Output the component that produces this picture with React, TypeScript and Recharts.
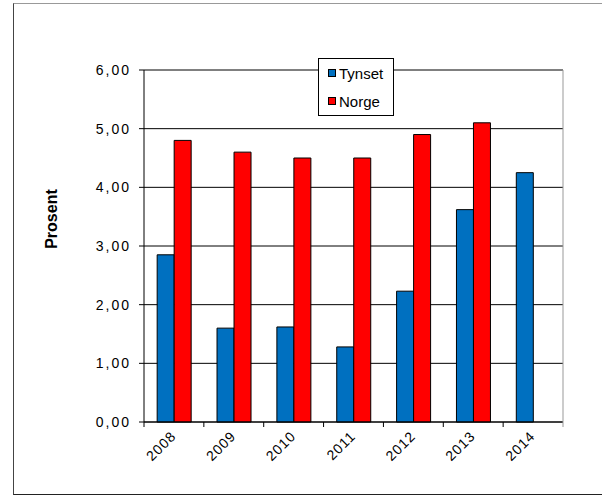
import React from 'react';
import { BarChart, Bar, XAxis, YAxis, CartesianGrid, Legend, Label } from 'recharts';

const years = ['2008', '2009', '2010', '2011', '2012', '2013', '2014'];
const tynset = [2.85, 1.6, 1.62, 1.28, 2.23, 3.62, 4.25];
const norge: (number | null)[] = [4.8, 4.6, 4.5, 4.5, 4.9, 5.1, null];
const yTicks = [0, 1, 2, 3, 4, 5, 6];
const seriesOrder = ['Tynset', 'Norge'];

const data = years.map((y, i) => ({ year: y, Tynset: tynset[i], Norge: norge[i] }));

const FONT = '"Liberation Sans", Arial, sans-serif';

const XTick = (props: any) => {
  const { x, y, payload, index, visibleTicksCount } = props;
  const off = payload && payload.offset ? payload.offset : 0;
  const last = index === visibleTicksCount - 1;
  return (
    <g>
      <line x1={x - off} x2={x - off} y1={y} y2={y + 5} stroke="#000" strokeWidth={1} />
      {last && <line x1={x + off} x2={x + off} y1={y - 352} y2={y + 5} stroke="#999" strokeWidth={1} />}
      <text
        x={x + 3}
        y={y + 15}
        textAnchor="end"
        transform={`rotate(-45, ${x + 3}, ${y + 15})`}
        fontFamily={FONT}
        fontSize={14}
        letterSpacing={1}
        fill="#000"
      >
        {payload.value}
      </text>
    </g>
  );
};

const LegendBox = (props: any) => {
  const items = ((props.payload || []) as any[])
    .slice()
    .sort((a, b) => seriesOrder.indexOf(a.value) - seriesOrder.indexOf(b.value));
  return (
    <div
      style={{
        width: 74,
        height: 56,
        border: '1px solid #000',
        background: '#fff',
        boxSizing: 'content-box',
        fontFamily: FONT,
        fontSize: 15,
        color: '#000',
      }}
    >
      {items.map((it, i) => (
        <div
          key={i}
          style={{ display: 'flex', alignItems: 'center', height: 28, paddingLeft: 9 }}
        >
          <span
            style={{
              display: 'inline-block',
              width: 6,
              height: 6,
              background: it.color,
              border: '1px solid #000',
              marginRight: 3,
            }}
          />
          <span>{it.value}</span>
        </div>
      ))}
    </div>
  );
};

export default function App() {
  return (
    <div style={{ position: 'absolute', left: 0, top: 0, width: 605, height: 495, background: '#fff' }}>
      <div
        style={{
          position: 'absolute',
          left: 13,
          top: 3,
          width: 588,
          height: 490,
          borderTop: '1px solid #999',
          borderLeft: '1px solid #444',
          borderBottom: '1px solid #222',
        }}
      />
      <BarChart
        width={605}
        height={495}
        data={data}
        margin={{ top: 70, right: 42, bottom: 33, left: 84 }}
        barCategoryGap="22%"
        barGap={0}
        style={{ position: 'absolute', left: 0, top: 0 }}
      >
        <CartesianGrid vertical={false} stroke="#000" strokeWidth={1} />
        <XAxis
          dataKey="year"
          tick={<XTick />}
          tickLine={false}
          tickSize={0}
          tickMargin={0}
          interval={0}
          height={40}
          axisLine={{ stroke: '#000' }}
        />
        <XAxis xAxisId="top" dataKey="year" orientation="top" height={0} tick={false} tickLine={false} axisLine={{ stroke: '#888' }} />
        <YAxis
          domain={[0, 6]}
          ticks={yTicks}
          interval={0}
          width={60}
          tickSize={5}
          tickMargin={8}
          tickLine={{ stroke: '#000' }}
          axisLine={{ stroke: '#000' }}
          tick={{ fontFamily: FONT, fontSize: 14, fill: '#000', letterSpacing: 2 }}
          tickFormatter={(v: number) => v.toFixed(2).replace('.', ',')}
        >
          <Label
            content={(p: any) => {
              const vb = p.viewBox || { x: 84 };
              const cx = vb.x - 33;
              const cy = 219;
              return (
                <text
                  x={cx}
                  y={cy}
                  textAnchor="middle"
                  dominantBaseline="central"
                  transform={`rotate(-90, ${cx}, ${cy})`}
                  fontFamily={FONT}
                  fontSize={16}
                  fontWeight="bold"
                  fill="#000"
                >
                  Prosent
                </text>
              );
            }}
          />
        </YAxis>
        <Legend
          layout="vertical"
          align="center"
          verticalAlign="middle"
          wrapperStyle={{ left: 318, top: 58, width: 76, height: 58 }}
          content={<LegendBox />}
        />
        <Bar dataKey="Tynset" fill="#0070C0" stroke="#000" strokeWidth={1} isAnimationActive={false} />
        <Bar dataKey="Norge" fill="#FF0000" stroke="#000" strokeWidth={1} isAnimationActive={false} />
      </BarChart>
    </div>
  );
}
